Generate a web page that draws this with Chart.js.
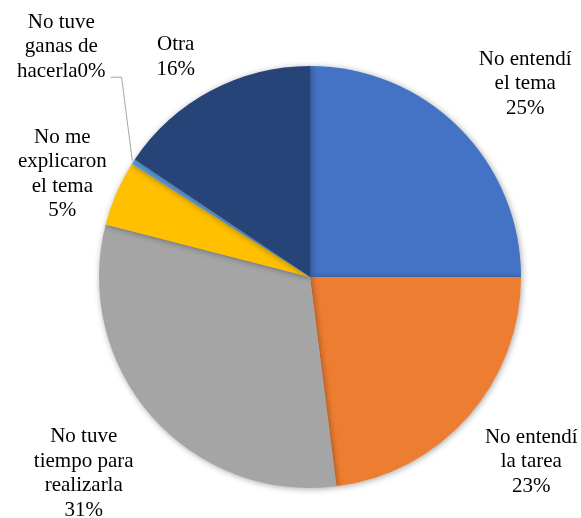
<!DOCTYPE html>
<html lang="es">
<head>
<meta charset="UTF-8">
<title>Motivos</title>
<script src="https://cdn.jsdelivr.net/npm/chart.js"></script>
<style>
  html, body { margin: 0; padding: 0; background: #fff; }
  #wrap { width: 581px; height: 518px; }
</style>
</head>
<body>
<div id="wrap"><canvas id="pie" width="581" height="518"></canvas></div>
<script>
// categorias (por renglones) y porcentajes
const categorias = [
  ['No entendí', 'el tema'],
  ['No entendí', 'la tarea'],
  ['No tuve', 'tiempo para', 'realizarla'],
  ['No me', 'explicaron', 'el tema'],
  ['No tuve', 'ganas de', 'hacerla'],
  ['Otra']
];
const valores = [25, 23, 31, 5, 0.4, 15.6];
const colores = ['#4472C4', '#ED7D31', '#A5A5A5', '#FFC000', '#5B9BD5', '#264478'];

// desplazamiento de cada etiqueta respecto al borde de su rebanada
const desplazamientos = [[66, -44], [63, 45], [-68, 57], [-54, -19], [-72, -115], [-35, -34]];
const pegarPorcentaje = [false, false, false, false, true, false];

const FUENTE = '21px "Liberation Serif", "Times New Roman", serif';

const sombra = {
  id: 'sombra',
  beforeDatasetsDraw(chart) {
    const c = chart.ctx;
    c.save();
    c.shadowColor = 'rgba(0,0,0,0.35)';
    c.shadowBlur = 6;
    c.shadowOffsetX = 1;
    c.shadowOffsetY = 1;
  },
  afterDatasetsDraw(chart) {
    chart.ctx.restore();
  }
};

const etiquetas = {
  id: 'etiquetas',
  afterDraw(chart) {
    const c = chart.ctx;
    const arcs = chart.getDatasetMeta(0).data;
    const total = valores.reduce((a, b) => a + b, 0);
    c.save();
    c.font = FUENTE;
    c.fillStyle = '#000';
    c.textAlign = 'center';
    c.textBaseline = 'middle';
    arcs.forEach((arc, i) => {
      const mid = (arc.startAngle + arc.endAngle) / 2;
      const ex = arc.x + Math.cos(mid) * arc.outerRadius;
      const ey = arc.y + Math.sin(mid) * arc.outerRadius;
      const lx = ex + desplazamientos[i][0];
      const ly = ey + desplazamientos[i][1];
      const pct = Math.round(valores[i] / total * 100) + '%';
      let lines = categorias[i].slice();
      if (pegarPorcentaje[i]) lines[lines.length - 1] += pct;
      else lines.push(pct);
      const lh = 24.5;
      const y0 = ly - (lines.length - 1) * lh / 2;
      lines.forEach((t, k) => c.fillText(t, lx, y0 + k * lh));
      if (pegarPorcentaje[i]) {
        // linea guia hacia la rebanada delgada
        const w = c.measureText(lines[lines.length - 1]).width;
        const yl = y0 + (lines.length - 1) * lh + 6;
        c.strokeStyle = '#A6A6A6';
        c.lineWidth = 1;
        c.beginPath();
        c.moveTo(lx + w / 2 + 5, yl);
        c.lineTo(lx + w / 2 + 16, yl);
        c.lineTo(ex - 1, ey - 1);
        c.stroke();
      }
    });
    c.restore();
  }
};

new Chart(document.getElementById('pie'), {
  type: 'pie',
  data: {
    labels: categorias.map(l => l.join(' ')),
    datasets: [{
      data: valores,
      backgroundColor: colores,
      borderWidth: 0
    }]
  },
  options: {
    responsive: false,
    animation: false,
    layout: { padding: { left: 99, right: 60, top: 66, bottom: 30 } },
    plugins: {
      legend: { display: false },
      tooltip: { enabled: false }
    }
  },
  plugins: [sombra, etiquetas]
});
</script>
</body>
</html>
